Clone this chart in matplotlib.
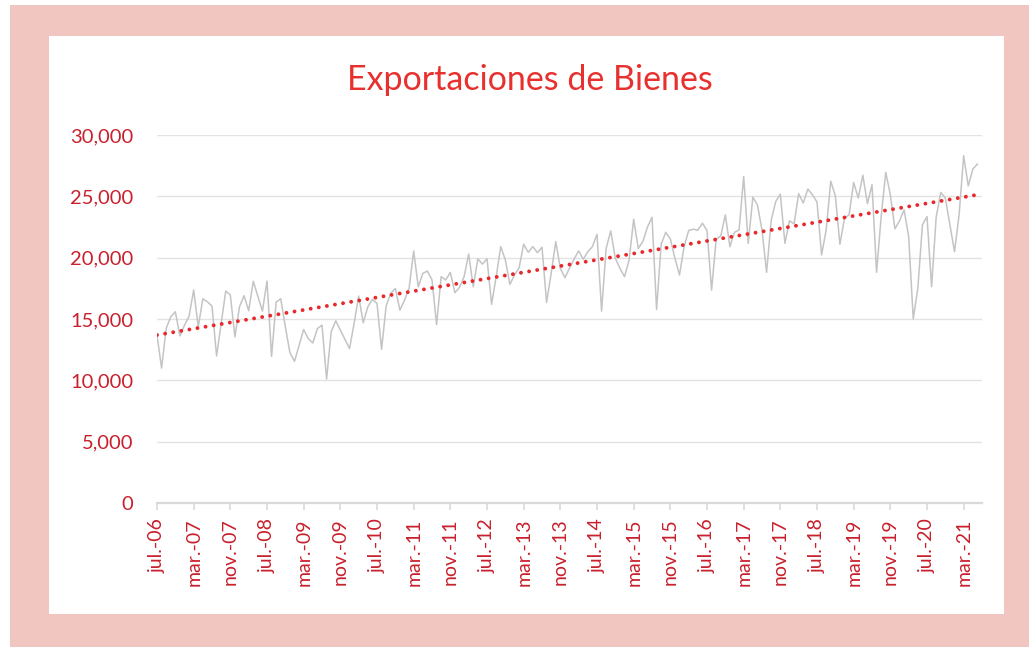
import numpy as np
import matplotlib
matplotlib.use("Agg")
import matplotlib.pyplot as plt
from matplotlib.patches import Rectangle

# monthly exports, jul-06 .. jun-21
exports = [
    13680, 11000, 14220, 15180, 15590, 13620, 14500, 15230, 17360, 14360,
    16650, 16400, 16050, 11990, 14630, 17280, 16950, 13540, 16000, 16900,
    15670, 18070, 16870, 15640, 18090, 11960, 16380, 16650, 14360, 12260,
    11550, 12860, 14140, 13400, 13050, 14220, 14500, 10100, 13950, 14850,
    14090, 13320, 12590, 14630, 16870, 14690, 16000, 16600, 16270, 12530,
    16080, 17090, 17490, 15720, 16540, 17490, 20550, 17630, 18720, 18910,
    18180, 14550, 18450, 18180, 18800, 17140, 17580, 18450, 20300, 17630,
    19900, 19470, 19920, 16190, 18450, 20900, 19810, 17820, 18590, 19180,
    21090, 20440, 20900, 20410, 20850, 16350, 18720, 21310, 19130, 18370,
    19130, 19890, 20550, 19870, 20490, 20900, 21910, 15640, 20760, 22180,
    19950, 19130, 18450, 19810, 23130, 20760, 21310, 22480, 23300, 15780,
    21090, 22070, 21530, 19950, 18590, 20900, 22210, 22320, 22240, 22810,
    22210, 17360, 21500, 21770, 23490, 20900, 22070, 22260, 26620, 21170,
    24930, 24310, 22260, 18800, 23030, 24580, 25180, 21170, 23000, 22760,
    25210, 24450, 25590, 25130, 24530, 20220, 22260, 26230, 25050, 21090,
    23220, 23490, 26140, 24860, 26720, 24400, 25950, 18800, 23350, 26960,
    25130, 22350, 23000, 23900, 21720, 15000, 17510, 22670, 23350, 17630,
    23300, 25320, 24860, 22670, 20490, 23490, 28310, 25850, 27220, 27630,
]

tick_labels = [
    "jul.-06", "mar.-07", "nov.-07", "jul.-08", "mar.-09", "nov.-09",
    "jul.-10", "mar.-11", "nov.-11", "jul.-12", "mar.-13", "nov.-13",
    "jul.-14", "mar.-15", "nov.-15", "jul.-16", "mar.-17", "nov.-17",
    "jul.-18", "mar.-19", "nov.-19", "jul.-20", "mar.-21",
]
tick_step = 8  # months between labels

y_ticks = [0, 5000, 10000, 15000, 20000, 25000, 30000]

title = "Exportaciones de Bienes"

plt.rcParams["font.family"] = ["Lato", "DejaVu Sans"]

W, H = 1029, 647
fig = plt.figure(figsize=(W / 100, H / 100), dpi=100)
fig.patch.set_facecolor("white")

# pink frame and white chart area
fig.patches.append(Rectangle((10 / W, 0), 1 - 10 / W, (H - 5) / H,
                             transform=fig.transFigure, facecolor="#f2c6c0",
                             edgecolor="none", zorder=-2))
fig.patches.append(Rectangle((49 / W, (H - 614) / H), (1004 - 49) / W, (614 - 36) / H,
                             transform=fig.transFigure, facecolor="white",
                             edgecolor="none", zorder=-1))

ax = fig.add_axes([157 / W, (H - 503) / H, (982 - 157) / W, (503 - 135) / H])
ax.set_facecolor("none")

x = np.arange(len(exports))
y = np.array(exports)

ax.plot(x, y, color="#c4c4c4", lw=1.1, zorder=2)

# linear trend, like excel's trendline
k, b = np.polyfit(x, y, 1)
ax.plot(x, k * x + b, color="#e8282b", lw=2.8, linestyle=(0, (0.01, 2.1)),
        dash_capstyle="round", zorder=3)

ax.set_xlim(0, 180)
ax.set_ylim(0, 30000)
ax.set_yticks(y_ticks)
ax.set_yticklabels([f"{v:,}" for v in y_ticks])
ax.set_xticks(np.arange(len(tick_labels)) * tick_step)
ax.set_xticklabels(tick_labels, rotation=90)

ax.grid(axis="y", color="#e3e3e3", lw=1)
ax.set_axisbelow(True)
for s in ["top", "right", "left"]:
    ax.spines[s].set_visible(False)
ax.spines["bottom"].set_color("#d9d9d9")
ax.spines["bottom"].set_linewidth(1.6)
ax.spines["bottom"].set_zorder(4)

red_lbl = "#c8202c"
ax.tick_params(axis="y", length=0, pad=17, labelsize=14.5, labelcolor=red_lbl)
ax.tick_params(axis="x", length=5, width=1.2, color="#d9d9d9", pad=6,
               labelsize=14, labelcolor=red_lbl)

fig.text(530 / W, (H - 80) / H, title, ha="center", va="center",
         fontsize=24.5, color="#e8302f")

fig.savefig("out.png", dpi=100)
